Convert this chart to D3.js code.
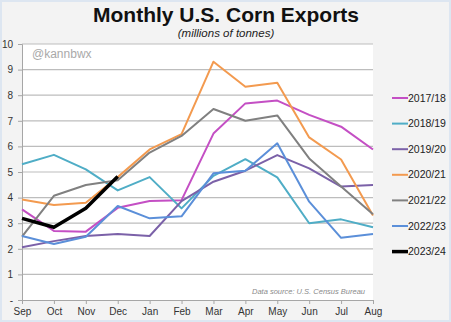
<!DOCTYPE html>
<html><head><meta charset="utf-8">
<script src="https://cdn.jsdelivr.net/npm/d3@7"></script>
<style>html,body{margin:0;padding:0;background:#f3f3f3;}svg{display:block;font-family:"Liberation Sans",Arial,sans-serif;}</style>
</head><body>
<script>
const months = ["Sep","Oct","Nov","Dec","Jan","Feb","Mar","Apr","May","Jun","Jul","Aug"];
const yTicks = [0,1,2,3,4,5,6,7,8,9,10];
const yTickLabels = ["-","1","2","3","4","5","6","7","8","9","10"];
const seriesNames = ["2017/18","2018/19","2019/20","2020/21","2021/22","2022/23","2023/24"];
const seriesColors = ["#c44fc4","#4fadc6","#7b61a8","#f39a4f","#808080","#5b8fd9","#000000"];
const s2017 = [3.54,2.70,2.67,3.60,3.87,3.90,6.50,7.68,7.79,7.23,6.77,5.88];
const s2018 = [5.30,5.67,5.10,4.28,4.80,3.58,4.85,5.50,4.79,3.00,3.15,2.84];
const s2019 = [2.06,2.30,2.50,2.58,2.50,3.86,4.62,5.05,5.66,5.14,4.43,4.49];
const s2020 = [3.93,3.71,3.80,4.80,5.88,6.48,9.31,8.33,8.49,6.35,5.49,3.30];
const s2021 = [2.48,4.07,4.49,4.68,5.76,6.41,7.46,7.00,7.21,5.53,4.43,3.35];
const s2022 = [2.50,2.19,2.47,3.67,3.19,3.27,4.95,5.05,6.12,3.84,2.43,2.58];
const s2023 = [3.19,2.84,3.58,4.82];
const allSeries = [s2017,s2018,s2019,s2020,s2021,s2022,s2023];

const W = 451, H = 322;
const svg = d3.select("body").append("svg").attr("width",W).attr("height",H);
svg.append("rect").attr("x",0.5).attr("y",0.5).attr("width",W-1).attr("height",H-1)
  .attr("fill","#f3f3f3").attr("stroke","#dde6f1").attr("stroke-width",3);

const x = d3.scalePoint().domain(months).range([22,373]);
const y = d3.scaleLinear().domain([0,10]).range([300,44]);

svg.append("rect").attr("x",22).attr("y",44).attr("width",351).attr("height",256).attr("fill","#ffffff");

// gridlines
svg.append("g").selectAll("line").data(yTicks.filter(d=>d>0)).join("line")
  .attr("x1",22).attr("x2",373).attr("y1",d=>y(d)).attr("y2",d=>y(d))
  .attr("stroke","#bdbdbd").attr("stroke-width",1.2);

// y axis
const yAxis = svg.append("g").attr("transform","translate(22,0)")
  .call(d3.axisLeft(y).tickValues(yTicks).tickFormat((d,i)=>yTickLabels[i]).tickSize(4).tickPadding(5));
yAxis.select(".domain").attr("stroke","#a6a6a6");
yAxis.selectAll(".tick line").attr("stroke","#a6a6a6");
yAxis.selectAll("text").attr("font-size",10).attr("fill","#333");

// x axis
const xAxis = svg.append("g").attr("transform","translate(0,300)")
  .call(d3.axisBottom(x).tickSize(4).tickPadding(4).tickSizeOuter(0));
xAxis.select(".domain").attr("stroke","#a6a6a6");
xAxis.selectAll(".tick line").attr("stroke","#a6a6a6");
xAxis.selectAll("text").attr("font-size",10).attr("fill","#333");

// lines
const line = d3.line().x((d,i)=>x(months[i])).y(d=>y(d));
allSeries.forEach((s,k)=>{
  svg.append("path").datum(s).attr("d",line).attr("fill","none")
    .attr("stroke",seriesColors[k]).attr("stroke-width",k===6?3.5:2)
    .attr("stroke-linejoin","round");
});

// legend
const lg = svg.append("g");
seriesNames.forEach((n,i)=>{
  const yy = 98 + i*25.6;
  lg.append("line").attr("x1",392).attr("x2",408).attr("y1",yy).attr("y2",yy)
    .attr("stroke",seriesColors[i]).attr("stroke-width",i===6?3.5:2);
  lg.append("text").attr("x",408).attr("y",yy+3.5).attr("font-size",10.5).attr("fill","#222").text(n);
});

// titles
svg.append("text").attr("x",226).attr("y",22).attr("text-anchor","middle")
  .attr("font-size",21).attr("font-weight","bold").attr("fill","#111").text("Monthly U.S. Corn Exports");
svg.append("text").attr("x",226).attr("y",37).attr("text-anchor","middle")
  .attr("font-size",11.5).attr("font-style","italic").attr("fill","#222").text("(millions  of  tonnes)");
svg.append("text").attr("x",32).attr("y",58).attr("font-size",12).attr("fill","#a9a9a9").text("@kannbwx");
svg.append("text").attr("x",365).attr("y",294).attr("text-anchor","end")
  .attr("font-size",7.5).attr("font-style","italic").attr("fill","#8a8a8a").text("Data source: U.S. Census Bureau");
</script>
</body></html>
